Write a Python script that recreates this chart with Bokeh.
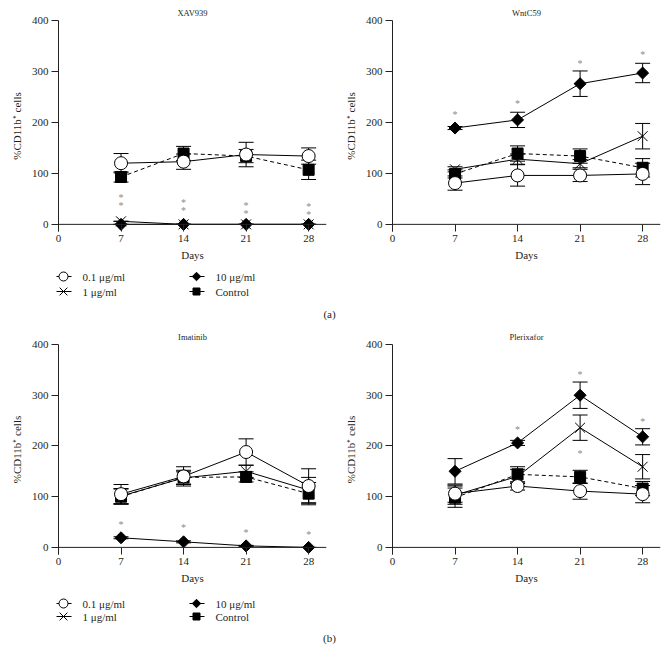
import math
from bokeh.plotting import figure
from bokeh.models import ColumnDataSource, Whisker, TeeHead, Range1d, FixedTicker, Span
from bokeh.layouts import column, row
from bokeh.embed import file_html
from bokeh.resources import INLINE
from bokeh.core.properties import value

FONT = "Liberation Serif"
INK = "#231f20"
STAR = "#8a8a8a"

# ---------------- data ----------------
days = [7, 14, 21, 28]
x_ticks = [0, 7, 14, 21, 28]
y_ticks = [0, 100, 200, 300, 400]
series_labels = ["0.1 μg/ml", "1 μg/ml", "10 μg/ml", "Control"]
panel_titles = ["XAV939", "WntC59", "Imatinib", "Plerixafor"]
panel_tags = ["(a)", "(b)"]

# XAV939
xav_01 = [120, 123, 137, 134]
xav_01_err = [19, 15, 24, 16]
xav_1 = [6, 0, 0, 0]
xav_1_err = [0, 0, 0, 0]
xav_10 = [0, 0, 0, 0]
xav_10_err = [0, 0, 0, 0]
xav_ctrl = [93, 139, 134, 107]
xav_ctrl_err = [10, 14, 13, 19]
xav_star_x = [7, 14, 21, 28, 7, 14, 21, 28]
xav_star_y = [57, 47, 40, 38, 41, 31, 25, 23]

# WntC59
wnt_01 = [81, 96, 96, 99]
wnt_01_err = [14, 21, 12, 21]
wnt_1 = [108, 128, 119, 173]
wnt_1_err = [5, 10, 8, 25]
wnt_10 = [189, 205, 276, 297]
wnt_10_err = [3, 15, 25, 19]
wnt_ctrl = [99, 139, 134, 111]
wnt_ctrl_err = [8, 15, 14, 18]
wnt_star_x = [7, 14, 21, 28]
wnt_star_y = [219, 241, 320, 337]

# Imatinib
ima_01 = [105, 140, 188, 121]
ima_01_err = [19, 19, 26, 34]
ima_1 = [101, 137, 150, 113]
ima_1_err = [15, 12, 12, 25]
ima_10 = [19, 11, 3, 0]
ima_10_err = [2, 2, 1, 0]
ima_ctrl = [100, 138, 139, 106]
ima_ctrl_err = [15, 14, 10, 22]
ima_star_x = [7, 14, 21, 28]
ima_star_y = [49, 44, 33, 30]

# Plerixafor
ple_01 = [106, 121, 111, 105]
ple_01_err = [17, 8, 16, 17]
ple_1 = [103, 140, 236, 159]
ple_1_err = [18, 14, 25, 24]
ple_10 = [150, 206, 300, 218]
ple_10_err = [25, 5, 26, 16]
ple_ctrl = [98, 144, 139, 116]
ple_ctrl_err = [19, 15, 13, 14]
ple_star_x = [14, 21, 28, 21]
ple_star_y = [237, 344, 252, 190]

# ---------------- styles ----------------
STYLES = [
    dict(marker="circle", size=13, fill="white", dash="solid", angle=0.0),   # 0.1
    dict(marker="x", size=14, fill="black", dash="solid", angle=0.0),        # 1
    dict(marker="square", size=8.5, fill="black", dash="solid", angle=math.pi / 4),  # 10
    dict(marker="square", size=11, fill="black", dash="4 3", angle=0.0),     # control
]


def style_axes(p):
    p.grid.visible = False
    p.outline_line_color = None
    p.xaxis.ticker = FixedTicker(ticks=x_ticks)
    p.yaxis.ticker = FixedTicker(ticks=y_ticks)
    for ax in (p.xaxis, p.yaxis):
        ax.axis_line_color = "#222222"
        ax.axis_line_width = 1
        ax.major_tick_line_color = "#222222"
        ax.minor_tick_out = 0
        ax.minor_tick_in = 0
        ax.major_label_text_font = FONT
        ax.major_label_text_font_size = "11px"
        ax.major_label_text_color = INK
        ax.axis_label_text_font = FONT
        ax.axis_label_text_font_size = "11px"
        ax.axis_label_text_font_style = "normal"
        ax.axis_label_text_color = INK
    p.yaxis.major_tick_out = 7
    p.yaxis.major_tick_in = 0
    # x axis: baseline drawn at 0, ticks hang down to the frame edge
    p.xaxis.axis_line_color = None
    p.xaxis.major_tick_out = 0
    p.xaxis.major_tick_in = 7
    p.add_layout(Span(location=0, dimension="width", line_color="#222222", line_width=1))
    p.xaxis.axis_label = "Days"
    p.yaxis.axis_label = "%CD11b⁺ cells"
    p.xaxis.major_label_standoff = 3
    p.xaxis.axis_label_standoff = 4
    p.yaxis.major_label_standoff = 3
    p.yaxis.axis_label_standoff = 6


def make_panel(title, series, errs, star_x, star_y, width, height, tb, bb):
    p = figure(width=width, height=height, x_range=Range1d(0, 30),
               y_range=Range1d(-14, 400), output_backend="svg",
               toolbar_location=None, title=title,
               min_border_left=58, min_border_right=8,
               min_border_top=tb, min_border_bottom=bb)
    p.title.align = "center"
    p.title.text_font = FONT
    p.title.text_font_size = "8.5px"
    p.title.text_font_style = "normal"
    p.title.text_color = INK
    p.title.standoff = 5
    style_axes(p)

    order = [3, 1, 2, 0]
    for i in order:
        ys, st = series[i], STYLES[i]
        p.line(days, ys, line_color="black", line_width=1, line_dash=st["dash"])
    for i in order:
        ys, es = series[i], errs[i]
        src = ColumnDataSource(dict(x=days, lo=[y - e for y, e in zip(ys, es)],
                                    hi=[y + e for y, e in zip(ys, es)]))
        w = Whisker(source=src, base="x", lower="lo", upper="hi",
                    line_color="black", line_width=1,
                    upper_head=TeeHead(size=15, line_color="black", line_width=1),
                    lower_head=TeeHead(size=15, line_color="black", line_width=1))
        p.add_layout(w)
    for i in order:
        ys, st = series[i], STYLES[i]
        p.scatter(days, ys, marker=st["marker"], size=st["size"],
                  fill_color=st["fill"], line_color="black", line_width=1,
                  angle=st["angle"])
    p.text(star_x, star_y, text=["*"] * len(star_x), text_font=value(FONT),
           text_font_size="10px", text_color=STAR, text_align="center",
           text_baseline="middle", y_offset=2)
    return p


def make_legend(tag, height, r1, r2, ty):
    p = figure(width=668, height=height, x_range=Range1d(0, 668),
               y_range=Range1d(height, 0), output_backend="svg",
               toolbar_location=None, x_axis_type=None, y_axis_type=None,
               min_border=0)
    p.grid.visible = False
    p.outline_line_color = None
    pos = [(63, r1), (63, r2), (196, r1), (196, r2)]
    leg_sizes = [9, 11, 6, 7]
    for (cx, cy), lab, st, ms in zip(pos, series_labels, STYLES, leg_sizes):
        p.segment(cx - 7, cy, cx + 8, cy, line_color="black", line_width=1)
        p.scatter([cx], [cy], marker=st["marker"], size=ms, fill_color=st["fill"],
                  line_color="black", line_width=1, angle=st["angle"])
        p.text([cx + 19], [cy], text=[lab], text_font=value(FONT),
               text_font_size="11px", text_color=INK, text_align="left",
               text_baseline="middle")
    p.text([329], [ty], text=[tag], text_font=value(FONT), text_font_size="11px",
           text_color=INK, text_align="center", text_baseline="middle")
    return p


pa1 = make_panel(panel_titles[0], [xav_01, xav_1, xav_10, xav_ctrl],
                 [xav_01_err, xav_1_err, xav_10_err, xav_ctrl_err],
                 xav_star_x, xav_star_y, 334, 268, 20, 37)
pa2 = make_panel(panel_titles[1], [wnt_01, wnt_1, wnt_10, wnt_ctrl],
                 [wnt_01_err, wnt_1_err, wnt_10_err, wnt_ctrl_err],
                 wnt_star_x, wnt_star_y, 334, 268, 20, 37)
pb1 = make_panel(panel_titles[2], [ima_01, ima_1, ima_10, ima_ctrl],
                 [ima_01_err, ima_1_err, ima_10_err, ima_ctrl_err],
                 ima_star_x, ima_star_y, 334, 273, 22, 41)
pb2 = make_panel(panel_titles[3], [ple_01, ple_1, ple_10, ple_ctrl],
                 [ple_01_err, ple_1_err, ple_10_err, ple_ctrl_err],
                 ple_star_x, ple_star_y, 334, 273, 22, 41)

la = make_legend(panel_tags[0], 54, 8, 23, 45)
lb = make_legend(panel_tags[1], 60, 8, 21, 42)

layout = column(row(pa1, pa2), la, row(pb1, pb2), lb, spacing=0)
open("out.html", "w").write(file_html(layout, INLINE))
